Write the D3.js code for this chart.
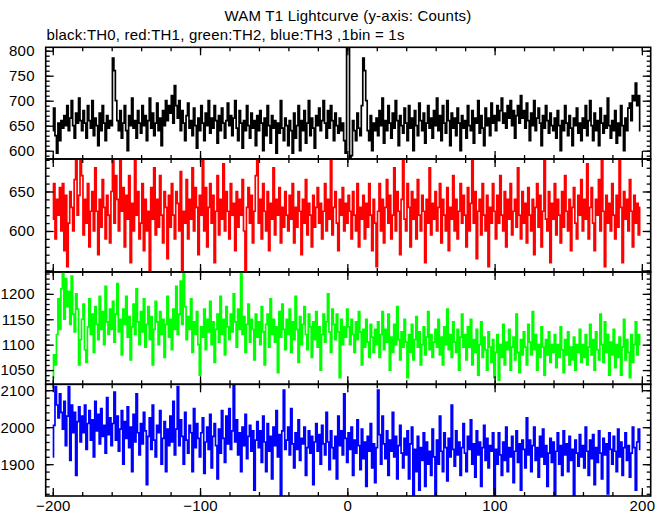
<!DOCTYPE html>
<html><head><meta charset="utf-8">
<script src="https://cdn.jsdelivr.net/npm/d3@7"></script>
<style>body{margin:0;background:#fff}svg text{font-family:"Liberation Sans",Arial,Helvetica,sans-serif;letter-spacing:0.2px}</style>
</head><body><svg id="c" width="669" height="515"></svg>
<script>
// bins: x = -200 .. 199, 1 bin = 1 s
const xStart = -200;
const xTickLabels = [-200, -100, 0, 100, 200];

const th0 = [
640,685,630,595,655,620,660,645,670,650,690,640,665,700,650,625,675,655,705,660,
640,680,655,625,690,660,645,700,630,665,650,610,675,640,690,655,620,670,645,660,
650,785,760,700,660,640,680,625,655,690,640,600,670,650,705,645,660,625,680,655,
635,690,650,670,620,660,705,645,675,630,655,695,640,665,610,680,650,700,660,690,
675,710,655,730,690,665,700,640,680,655,620,670,695,645,660,630,685,650,605,665,
640,690,655,620,675,650,700,635,665,645,690,660,615,670,640,685,655,625,660,695,
650,670,630,665,700,645,620,680,655,605,660,640,690,650,625,675,645,660,610,670,
640,680,655,600,665,630,690,650,615,670,645,660,595,655,635,700,645,620,665,650,
610,660,640,595,675,625,650,690,600,660,640,680,615,655,700,630,665,645,605,670,
650,685,640,660,700,655,625,680,645,690,660,620,675,650,635,665,640,655,620,595,
830,820,578,590,660,640,620,675,645,630,690,785,760,700,640,620,670,600,655,640,
665,630,680,650,705,615,660,640,690,655,625,675,645,700,660,610,670,650,635,685,
655,620,690,645,665,600,680,650,630,695,660,640,675,615,655,690,645,665,625,680,
650,705,640,670,620,690,655,635,700,660,610,675,645,665,630,685,655,600,670,645,
660,625,690,650,640,680,615,665,655,700,635,670,645,610,685,650,665,630,695,655,
670,640,690,660,680,705,655,675,645,690,665,700,650,680,625,670,690,655,710,665,
680,645,695,660,620,675,650,700,640,665,685,655,610,670,645,690,660,635,675,650,
640,665,625,680,650,600,660,640,690,655,630,670,645,610,665,650,685,635,655,620,
665,645,690,630,660,700,650,620,675,640,660,610,685,655,635,670,645,705,650,625,
660,640,680,615,655,630,690,650,600,665,640,685,695,660,710,700,735,690,710,640];

const th1 = [
615,660,590,640,620,655,600,660,575,645,555,610,650,630,600,665,690,620,645,700,
670,595,640,610,660,580,625,650,600,680,625,570,640,605,665,630,590,645,620,585,
650,695,610,670,640,600,690,625,655,580,645,615,670,560,635,600,690,620,650,590,
610,660,575,640,600,625,550,655,615,680,595,640,605,670,620,585,650,630,565,645,
605,660,620,590,650,635,600,675,548,625,610,665,590,640,615,680,600,655,630,570,
645,620,690,600,655,580,630,660,610,645,560,625,670,595,640,615,685,600,650,625,
590,660,620,635,575,650,605,640,620,665,600,545,630,655,610,645,585,625,670,690,
610,640,590,660,625,600,650,575,635,615,680,595,640,620,655,585,630,605,650,620,
600,645,615,660,585,630,605,650,625,570,640,610,665,595,635,620,580,645,605,630,
655,610,635,590,625,660,600,640,615,690,595,630,650,610,575,640,620,655,600,635,
610,645,625,590,650,620,600,660,580,630,615,645,590,635,605,660,620,575,640,610,
555,625,660,600,640,585,630,665,610,645,590,620,680,600,650,625,570,640,690,615,
600,660,630,580,650,615,640,590,665,620,600,645,625,560,640,610,680,595,635,615,
650,600,630,660,585,640,620,600,655,575,630,615,670,600,640,590,625,660,610,645,
620,580,655,600,635,690,610,650,565,625,640,595,660,620,600,645,555,630,610,660,
625,590,645,610,670,620,600,650,580,640,615,660,595,625,640,605,680,620,590,650,
610,635,585,655,620,600,640,570,630,660,605,645,580,625,690,615,600,650,560,635,
615,660,595,640,620,585,650,605,670,625,600,640,575,630,655,610,590,645,620,665,
600,640,615,685,590,630,655,610,575,640,620,665,600,690,625,555,645,610,635,600,
660,620,590,645,605,690,630,560,650,615,640,600,665,625,580,645,610,635,595,630];

const th2 = [
1035,1080,1060,1120,1190,1130,1210,1245,1150,1230,1175,1205,1140,1235,1160,1125,1200,1170,1060,1110,
1150,1180,1090,1065,1135,1190,1120,1160,1085,1175,1140,1110,1195,1130,1165,1100,1215,1145,1120,1170,
1130,1185,1105,1160,1220,1125,1150,1080,1170,1140,1195,1115,1155,1070,1135,1180,1120,1210,1145,1100,
1165,1125,1190,1095,1140,1175,1110,1155,1060,1130,1185,1145,1100,1165,1120,1150,1075,1140,1195,1115,
1150,1090,1170,1130,1215,1120,1160,1225,1140,1240,1175,1110,1155,1130,1190,1085,1145,1120,1165,1100,
1040,1135,1115,1170,1090,1150,1125,1185,1100,1145,1065,1130,1160,1105,1195,1120,1150,1080,1175,1135,
1110,1160,1125,1200,1145,1095,1170,1130,1245,1120,1155,1085,1140,1180,1105,1150,1130,1070,1160,1115,
1145,1100,1175,1125,1060,1140,1160,1095,1190,1120,1150,1105,1135,1045,1165,1115,1180,1130,1090,1150,
1120,1170,1085,1145,1110,1195,1130,1065,1155,1100,1140,1175,1120,1090,1160,1135,1075,1145,1110,1165,
1095,1135,1050,1120,1160,1105,1145,1200,1125,1085,1170,1140,1110,1160,1125,1035,1150,1100,1135,1115,
1170,1135,1100,1150,1120,1085,1145,1110,1165,1125,1060,1130,1095,1150,1105,1075,1140,1115,1085,1130,
1100,1145,1075,1120,1165,1090,1130,1105,1160,1050,1115,1085,1140,1100,1175,1110,1070,1125,1095,1150,
1105,1035,1120,1085,1140,1070,1110,1155,1095,1125,1060,1100,1135,1080,1115,1165,1090,1120,1075,1105,
1130,1095,1150,1080,1115,1060,1135,1100,1170,1090,1120,1075,1145,1105,1085,1130,1050,1115,1160,1095,
1120,1070,1135,1095,1150,1060,1110,1085,1130,1040,1100,1145,1075,1115,1090,1050,1125,1095,1065,1110,
1035,1085,1120,1030,1100,1075,1140,1060,1105,1090,1130,1050,1095,1115,1070,1160,1085,1045,1110,1080,
1125,1095,1060,1140,1105,1080,1165,1090,1120,1050,1100,1075,1135,1095,1040,1110,1080,1125,1065,1100,
1085,1120,1055,1100,1075,1135,1090,1045,1110,1080,1125,1060,1095,1070,1115,1050,1100,1085,1130,1065,
1100,1075,1120,1060,1095,1140,1080,1110,1050,1125,1090,1070,1160,1100,1065,1145,1085,1120,1040,1105,
1080,1130,1055,1100,1075,1115,1040,1095,1150,1070,1110,1085,1035,1120,1065,1100,1145,1080,1120,1100];

const th3 = [
1920,2005,2110,2060,2025,2090,2040,1995,2070,1950,2030,2110,1910,2060,1985,2040,1870,2015,2055,1960,
2030,1985,2060,1940,2010,2045,1965,2020,1920,2070,1990,2035,1955,2050,1975,2005,1930,2080,1980,2025,
1950,2010,2095,1965,2030,1935,1995,2045,1900,2015,1970,2055,1945,2000,1880,2035,1960,2090,1985,1925,
2010,1955,2040,1990,1845,1975,2025,1940,2060,1965,1920,2005,1985,2045,1900,1970,2015,1880,1995,1950,
2030,1960,2070,1925,1995,2110,1950,2020,1975,1900,2040,1965,1930,2005,1985,1880,2050,1945,2010,1970,
1920,1985,2025,1875,1960,2000,1940,2035,1890,1975,2010,1950,1860,1995,1930,2045,1970,1905,2030,1955,
2050,1940,1990,2115,1960,2020,1925,1985,1880,2000,1950,2035,1915,1975,2005,1935,1990,1830,1965,2015,
1945,1990,1905,2030,1960,1880,2010,1935,1975,1860,2000,1950,2045,1920,1980,1815,1990,2100,1940,1965,
2000,1925,2050,1955,1890,1985,1940,2020,1910,1970,1955,2000,1870,1945,1990,1930,1975,1845,1960,2010,
1935,1980,1900,2005,1955,1925,2040,1960,1885,1990,1945,1915,1975,1860,2030,1950,1990,1925,2090,1970,
1905,1985,1940,2000,1870,1965,1930,2020,1950,1885,1995,1915,1960,1840,1975,1935,2010,1890,1955,1850,
1945,2100,1980,1900,2030,1955,1915,1990,1870,1965,1935,2040,1920,1975,1860,1950,2005,1930,1890,1970,
1925,1990,1860,1955,2000,1815,1940,1880,1975,1830,1945,1910,1985,1840,1960,1900,1935,1870,1995,1920,
1815,1965,1900,2030,1935,1880,1985,1945,1855,1970,1920,2060,1940,1895,1990,1925,1960,1870,1945,2010,
1930,1880,1975,1940,2020,1900,1955,1865,1990,1925,1960,1840,1945,2005,1910,1970,1890,1950,1935,1985,
1815,1940,1900,1985,1925,1870,1960,1910,2000,1880,1945,1920,1975,1850,1935,1990,1905,1955,1830,1965,
1940,1890,2025,1925,1965,1880,1950,2000,1910,1945,1865,1975,1920,1995,1900,1950,1840,1930,1970,1905,
1960,1815,1935,1985,1900,1950,1870,1990,1925,1955,1880,1975,1910,1940,1815,1965,1930,1895,1980,1920,
1950,1890,2000,1935,1870,1965,1915,1980,1845,1945,1905,1990,1930,1860,1970,1925,1955,1820,1985,1940,
1900,1975,1935,1880,1995,1920,1960,1870,1945,1985,1910,1950,1865,1930,2000,1945,1830,1960,1995,1940];

const th0Ticks = [600, 650, 700, 750, 800];
const th1Ticks = [600, 650];
const th2Ticks = [1050, 1100, 1150, 1200];
const th3Ticks = [1900, 2000, 2100];

const titleText = "WAM T1 Lightcurve (y-axis: Counts)";
const subtitleText = "black:TH0, red:TH1, green:TH2, blue:TH3 ,1bin = 1s";

// ---- layout ----
const panels = [
  {data: th0, color: "#000000", domain: [583.4, 806.8], top: 47.3, bottom: 159, major: 50, minor: 10, labels: th0Ticks},
  {data: th1, color: "#ff0000", domain: [548.1, 691.1], top: 159, bottom: 272, major: 50, minor: 10, labels: th1Ticks},
  {data: th2, color: "#00ff00", domain: [1022, 1243], top: 272, bottom: 384.3, major: 50, minor: 10, labels: th2Ticks},
  {data: th3, color: "#0000ff", domain: [1814, 2116], top: 384.3, bottom: 496, major: 100, minor: 20, labels: th3Ticks}
];
const X0 = 45.7, X1 = 650.7;
const x = d3.scaleLinear().domain([-204.8, 206]).range([X0, X1]);
const svg = d3.select("#c");
const FS = "15px";

svg.append("text").attr("x", 348).attr("y", 21).attr("text-anchor", "middle")
  .style("font-size", FS).text(titleText);
svg.append("text").attr("x", 46.5).attr("y", 39.5)
  .style("font-size", FS).text(subtitleText);

const xMajor = d3.range(-200, 201, 100);
const xMinor = d3.range(-200, 201, 20);

function styleAxis(g) {
  g.select(".domain").remove();
  g.selectAll("line").attr("stroke", "#000").attr("stroke-width", 1.3);
  g.attr("font-family", null).attr("font-size", null);
  g.selectAll("text").style("font-size", FS).attr("fill", "#000");
}

panels.forEach((p, k) => {
  const y = d3.scaleLinear().domain(p.domain).range([p.bottom, p.top]);
  const clipId = "clip" + k;
  svg.append("clipPath").attr("id", clipId).append("rect")
    .attr("x", X0).attr("y", p.top).attr("width", X1 - X0).attr("height", p.bottom - p.top);

  const line = d3.line().x((d, i) => x(xStart + i)).y(d => y(d)).curve(d3.curveStep);
  svg.append("path").datum(p.data)
    .attr("clip-path", `url(#${clipId})`)
    .attr("fill", "none").attr("stroke", p.color).attr("stroke-width", 1.7)
    .attr("d", line);

  const yMin = d3.range(Math.ceil(p.domain[0] / p.minor) * p.minor, p.domain[1], p.minor);
  const yMaj = d3.range(Math.ceil(p.domain[0] / p.major) * p.major, p.domain[1], p.major);

  // left
  svg.append("g").attr("transform", `translate(${X0},0)`)
    .call(d3.axisLeft(y).tickValues(yMin).tickSize(-4).tickFormat("")).call(styleAxis);
  svg.append("g").attr("transform", `translate(${X0},0)`)
    .call(d3.axisLeft(y).tickValues(yMaj).tickSize(-8).tickPadding(11)
      .tickFormat(d => p.labels.includes(d) ? d : "")).call(styleAxis);
  // right
  svg.append("g").attr("transform", `translate(${X1},0)`)
    .call(d3.axisRight(y).tickValues(yMin).tickSize(-4).tickFormat("")).call(styleAxis);
  svg.append("g").attr("transform", `translate(${X1},0)`)
    .call(d3.axisRight(y).tickValues(yMaj).tickSize(-8).tickFormat("")).call(styleAxis);
  // top
  svg.append("g").attr("transform", `translate(0,${p.top})`)
    .call(d3.axisTop(x).tickValues(xMinor).tickSize(-4).tickFormat("")).call(styleAxis);
  svg.append("g").attr("transform", `translate(0,${p.top})`)
    .call(d3.axisTop(x).tickValues(xMajor).tickSize(-8).tickFormat("")).call(styleAxis);
  // bottom
  svg.append("g").attr("transform", `translate(0,${p.bottom})`)
    .call(d3.axisBottom(x).tickValues(xMinor).tickSize(-4).tickFormat("")).call(styleAxis);
  const last = k === panels.length - 1;
  svg.append("g").attr("transform", `translate(0,${p.bottom})`)
    .call(d3.axisBottom(x).tickValues(last ? xTickLabels : xMajor).tickSize(-8).tickPadding(4)
      .tickFormat(d => last ? String(d).replace("-", "\u2212") : "")).call(styleAxis);

  svg.append("rect").attr("x", X0).attr("y", p.top).attr("width", X1 - X0).attr("height", p.bottom - p.top)
    .attr("fill", "none").attr("stroke", "#000").attr("stroke-width", 1.6);
});
</script>
</body></html>
